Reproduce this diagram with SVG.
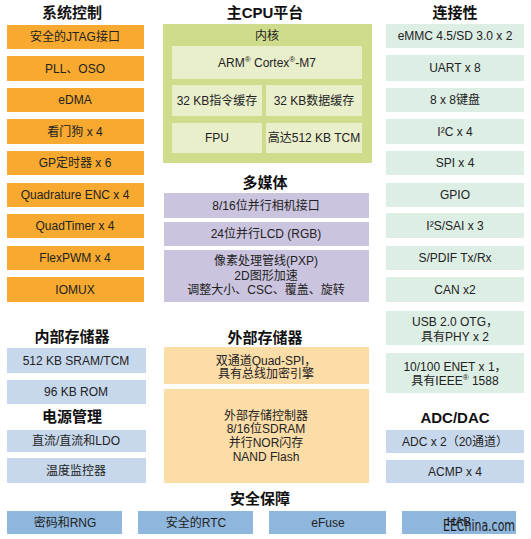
<svg xmlns="http://www.w3.org/2000/svg" width="531" height="539" viewBox="0 0 531 539">
<style>
text{font-family:"Liberation Sans","Noto Sans CJK SC",sans-serif;fill:#222;text-anchor:middle}
.t{font-size:12px}
.h{font-size:15px;font-weight:bold;fill:#111}
.or{fill:#f7aa2f}
.gr{fill:#cfdc8c}
.gi{fill:#e9efcb}
.lv{fill:#cbc4de}
.mt{fill:#ddeee5}
.lb{fill:#c7d8ed}
.pc{fill:#fcdca7}
.sb{fill:#8fb6dc}
.sup{font-size:8px}
</style>
<rect width="531" height="539" fill="#fff"/>
<g id="sysctl">
<text class="h" x="72" y="18">系统控制</text>
<g id="jtag"><rect class="or" x="7" y="25" width="137" height="24"/><text class="t" x="75" y="41">安全的JTAG接口</text></g>
<g id="pll"><rect class="or" x="7" y="56" width="137" height="25"/><text class="t" x="75" y="73">PLL、OSO</text></g>
<g id="edma"><rect class="or" x="7" y="88" width="137" height="24"/><text class="t" x="75" y="104">eDMA</text></g>
<g id="wdog"><rect class="or" x="7" y="119" width="137" height="25"/><text class="t" x="75" y="136">看门狗 x 4</text></g>
<g id="gpt"><rect class="or" x="7" y="151" width="137" height="24"/><text class="t" x="75" y="167">GP定时器 x 6</text></g>
<g id="qenc"><rect class="or" x="7" y="183" width="137" height="24"/><text class="t" x="75" y="199">Quadrature ENC x 4</text></g>
<g id="qtimer"><rect class="or" x="7" y="214" width="137" height="24"/><text class="t" x="75" y="230">QuadTimer x 4</text></g>
<g id="pwm"><rect class="or" x="7" y="246" width="137" height="24"/><text class="t" x="75" y="262">FlexPWM x 4</text></g>
<g id="iomux"><rect class="or" x="7" y="277" width="137" height="25"/><text class="t" x="75" y="294">IOMUX</text></g>
</g>
<g id="cpu">
<text class="h" x="265" y="18">主CPU平台</text>
<rect class="gr" x="163" y="24" width="209" height="139"/>
<text class="t" x="267" y="40">内核</text>
<g id="arm"><rect class="gi" x="172" y="46" width="190" height="33"/><text class="t" x="267" y="67">ARM<tspan class="sup" dy="-5">®</tspan><tspan dy="5"> Cortex</tspan><tspan class="sup" dy="-5">®</tspan><tspan dy="5">-M7</tspan></text></g>
<g id="icache"><rect class="gi" x="172" y="85" width="90" height="31"/><text class="t" x="217" y="105">32 KB指令缓存</text></g>
<g id="dcache"><rect class="gi" x="266" y="85" width="96" height="31"/><text class="t" x="314" y="105">32 KB数据缓存</text></g>
<g id="fpu"><rect class="gi" x="172" y="123" width="90" height="30"/><text class="t" x="217" y="142">FPU</text></g>
<g id="tcm"><rect class="gi" x="266" y="123" width="96" height="30"/><text class="t" x="314" y="142">高达512 KB TCM</text></g>
</g>
<g id="multimedia">
<text class="h" x="265" y="188">多媒体</text>
<g id="cam"><rect class="lv" x="164" y="193" width="205" height="25"/><text class="t" x="266" y="210">8/16位并行相机接口</text></g>
<g id="lcd"><rect class="lv" x="164" y="222" width="205" height="24"/><text class="t" x="266" y="238">24位并行LCD (RGB)</text></g>
<g id="pxp"><rect class="lv" x="164" y="250" width="205" height="52"/>
<text class="t" x="266" y="265">像素处理管线(PXP)</text>
<text class="t" x="266" y="280">2D图形加速</text>
<text class="t" x="266" y="294">调整大小、CSC、覆盖、旋转</text></g>
</g>
<g id="conn">
<text class="h" x="455" y="18">连接性</text>
<g id="emmc"><rect class="mt" x="386" y="24" width="138" height="24"/><text class="t" x="455" y="40">eMMC 4.5/SD 3.0 x 2</text></g>
<g id="uart"><rect class="mt" x="386" y="55" width="138" height="26"/><text class="t" x="455" y="72">UART x 8</text></g>
<g id="kpp"><rect class="mt" x="386" y="88" width="138" height="24"/><text class="t" x="455" y="104">8 x 8键盘</text></g>
<g id="i2c"><rect class="mt" x="386" y="119" width="138" height="25"/><text class="t" x="455" y="136">I²C x 4</text></g>
<g id="spi"><rect class="mt" x="386" y="151" width="138" height="24"/><text class="t" x="455" y="167">SPI x 4</text></g>
<g id="gpio"><rect class="mt" x="386" y="183" width="138" height="24"/><text class="t" x="455" y="199">GPIO</text></g>
<g id="i2s"><rect class="mt" x="386" y="213" width="138" height="25"/><text class="t" x="455" y="230">I²S/SAI x 3</text></g>
<g id="spdif"><rect class="mt" x="386" y="246" width="138" height="24"/><text class="t" x="455" y="262">S/PDIF Tx/Rx</text></g>
<g id="can"><rect class="mt" x="386" y="277" width="138" height="25"/><text class="t" x="455" y="294">CAN x2</text></g>
<g id="usb"><rect class="mt" x="386" y="311" width="138" height="34"/><text class="t" x="455" y="326">USB 2.0 OTG，</text><text class="t" x="455" y="341">具有PHY x 2</text></g>
<g id="enet"><rect class="mt" x="386" y="353" width="138" height="40"/><text class="t" x="455" y="371">10/100 ENET x 1，</text><text class="t" x="455" y="385">具有IEEE<tspan class="sup" dy="-5">®</tspan><tspan dy="5"> 1588</tspan></text></g>
</g>
<g id="adcdac">
<text class="h" x="455" y="423">ADC/DAC</text>
<g id="adc"><rect class="lb" x="386" y="430" width="138" height="23"/><text class="t" x="455" y="446">ADC x 2（20通道）</text></g>
<g id="acmp"><rect class="lb" x="386" y="460" width="138" height="23"/><text class="t" x="455" y="476">ACMP x 4</text></g>
</g>
<g id="intmem">
<text class="h" x="72" y="342">内部存储器</text>
<g id="sram"><rect class="lb" x="7" y="348" width="139" height="25"/><text class="t" x="76" y="365">512 KB SRAM/TCM</text></g>
<g id="rom"><rect class="lb" x="7" y="380" width="139" height="24"/><text class="t" x="76" y="396">96 KB ROM</text></g>
</g>
<g id="power">
<text class="h" x="72" y="422">电源管理</text>
<g id="dcdc"><rect class="lb" x="7" y="430" width="139" height="22"/><text class="t" x="76" y="445">直流/直流和LDO</text></g>
<g id="temp"><rect class="lb" x="7" y="458" width="139" height="25"/><text class="t" x="76" y="475">温度监控器</text></g>
</g>
<g id="extmem">
<text class="h" x="265" y="343">外部存储器</text>
<g id="qspi"><rect class="pc" x="164" y="347" width="205" height="37"/><text class="t" x="266" y="365">双通道Quad-SPI，</text><text class="t" x="266" y="378">具有总线加密引擎</text></g>
<g id="semc"><rect class="pc" x="164" y="389" width="205" height="94"/>
<text class="t" x="266" y="420">外部存储控制器</text>
<text class="t" x="266" y="433">8/16位SDRAM</text>
<text class="t" x="266" y="447">并行NOR闪存</text>
<text class="t" x="266" y="461">NAND Flash</text></g>
</g>
<g id="security">
<text class="h" x="260" y="504">安全保障</text>
<g id="rng"><rect class="sb" x="7" y="511" width="115" height="23"/><text class="t" x="65" y="527">密码和RNG</text></g>
<g id="rtc"><rect class="sb" x="138" y="511" width="115" height="23"/><text class="t" x="196" y="527">安全的RTC</text></g>
<g id="efuse"><rect class="sb" x="269" y="511" width="117" height="23"/><text class="t" x="328" y="527">eFuse</text></g>
<g id="hab"><rect class="sb" x="402" y="511" width="114" height="23"/><text class="t" x="459" y="526">HAB</text></g>
</g>
<g id="connectors"></g>
<text x="443" y="531" font-size="15" textLength="72" lengthAdjust="spacingAndGlyphs" style="text-anchor:start;font-family:'DejaVu Sans',sans-serif;fill:#1a1a1a">EEChina.com</text>
</svg>
